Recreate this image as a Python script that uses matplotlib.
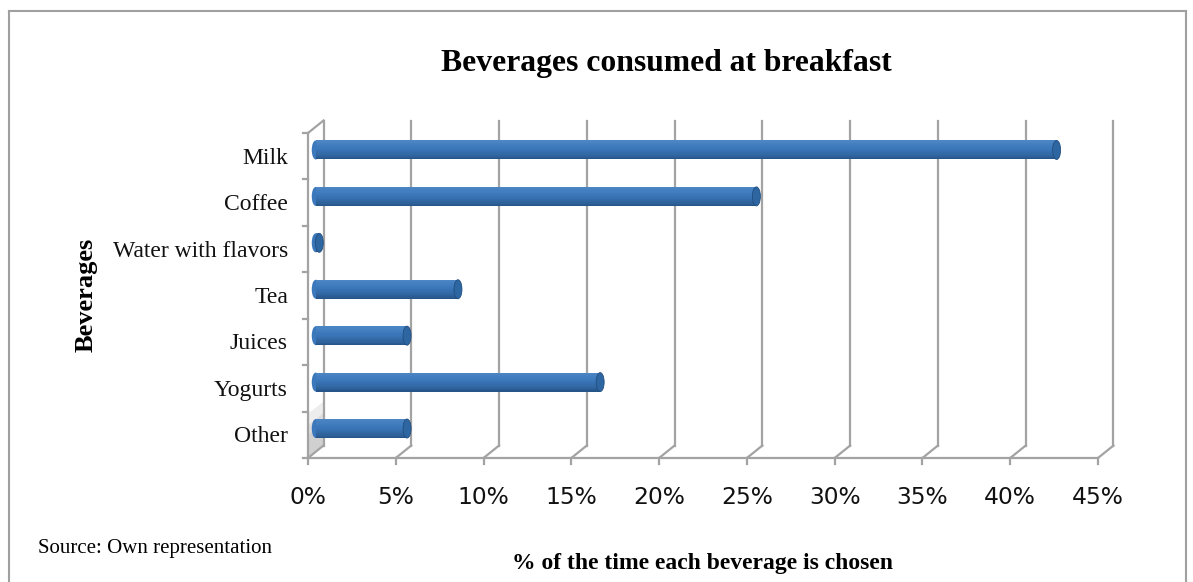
import matplotlib.pyplot as plt
import numpy as np
from matplotlib.patches import Ellipse, Polygon
from matplotlib.lines import Line2D

categories = ["Other", "Yogurts", "Juices", "Tea", "Water with flavors", "Coffee", "Milk"]
values = [5.2, 16.2, 5.2, 8.1, 0.2, 25.1, 42.2]
xticks = list(range(0, 50, 5))
xlabels = [f"{t}%" for t in xticks]

W, H = 1193, 582
fig = plt.figure(figsize=(W / 100, H / 100), dpi=100)

# front plane in pixels
x0, x1 = 308, 1098
yb, yt = 458, 133
ax = fig.add_axes([x0 / W, 1 - yb / H, (x1 - x0) / W, (yb - yt) / H])
ax.set_xlim(0, 45)
ax.set_ylim(-0.5, 6.5)
ax.axis("off")

# depth offset in data units
px_x = (x1 - x0) / 45
px_y = (yb - yt) / 7
ddx = 15.5 / px_x
ddy = 12.5 / px_y

grid = "#a3a3a3"
lw = 1.6

# back gridlines + floor diagonals
for t, lab in zip(xticks, xlabels):
    ax.plot([t + ddx, t + ddx], [-0.5 + ddy, 6.5 + ddy], color=grid, lw=lw, clip_on=False, zorder=1)
    ax.plot([t, t + ddx], [-0.5, -0.5 + ddy], color=grid, lw=lw, clip_on=False, zorder=1)
    ax.plot([t, t], [-0.5, -0.5 - 6 / px_y], color=grid, lw=lw, clip_on=False, zorder=1)
    ax.text(t, -0.5 - 39 / px_y, lab, ha="center", va="center",
            fontsize=16.8, family="DejaVu Sans", color="#111111")

# floor front line and left wall
ax.plot([0, 45], [-0.5, -0.5], color=grid, lw=lw, clip_on=False, zorder=1)
ax.plot([0, 0], [-0.5, 6.5], color=grid, lw=lw, clip_on=False, zorder=1)
ax.plot([0, ddx], [6.5, 6.5 + ddy], color=grid, lw=lw, clip_on=False, zorder=1)

# soft shadow on left wall near bottom
for a, top in [(0.25, 0.45), (0.3, 0.2), (0.35, 0.0)]:
    ax.add_patch(Polygon([[0, -0.5], [ddx, -0.5 + ddy], [ddx, top + ddy], [0, top]], closed=True,
                         facecolor="#b8b8b8", edgecolor="none", alpha=a, zorder=0.5, clip_on=False))

# y ticks on the left wall
for k in range(8):
    ax.plot([0, -5 / px_x], [-0.5 + k, -0.5 + k], color=grid, lw=lw, clip_on=False, zorder=1)

for i, name in enumerate(categories):
    ax.text(-20 / px_x, i - 2 / px_y, name, ha="right", va="center",
            fontsize=17, family="Liberation Serif", color="#111111")

# cylinder bars at mid depth
bh = 19 / px_y
cap_w = 8 / px_x
top_c = np.array([0x58, 0x8f, 0xcc]) / 255
mid_c = np.array([0x3b, 0x78, 0xbb]) / 255
bot_c = np.array([0x22, 0x4e, 0x80]) / 255
n = 16
for i, v in enumerate(values):
    yc = i + 0.5 * ddy
    xs = 0.5 * ddx
    ax.add_patch(Ellipse((xs, yc), cap_w, bh, facecolor=mid_c, edgecolor="none", zorder=3))
    for k in range(n):
        f = (k + 0.5) / n
        # f = 0 bottom, f = 1 top
        if f > 0.6:
            c = mid_c + (top_c - mid_c) * ((f - 0.6) / 0.4) * 0.6
        else:
            c = bot_c + (mid_c - bot_c) * (f / 0.6) ** 0.6
        ax.fill_between([xs, xs + v], yc - bh / 2 + k * bh / n, yc - bh / 2 + (k + 1) * bh / n + 0.002,
                        color=c, lw=0, zorder=4)
    ax.add_patch(Ellipse((xs + v, yc), cap_w, bh, facecolor="#2d66a1", edgecolor=bot_c, lw=0.6, zorder=5))

# texts
fig.text(666 / W, 1 - 63 / H, "Beverages consumed at breakfast", ha="center", va="center",
         fontsize=22.8, fontweight="bold", family="Liberation Serif")
fig.text(86 / W, 1 - 295 / H, "Beverages", ha="center", va="center", rotation=90,
         fontsize=19, fontweight="bold", family="Liberation Serif")
fig.text(702 / W, 1 - 564 / H, "% of the time each beverage is chosen", ha="center", va="center",
         fontsize=17, fontweight="bold", family="Liberation Serif")
fig.text(38 / W, 1 - 548 / H, "Source: Own representation", ha="left", va="center",
         fontsize=15, family="Liberation Serif")

# outer frame
for xy in ([[9, 9], [600, 11]], [[9, 1186], [11, 11]], [[1186, 1186], [11, 600]]):
    fig.add_artist(Line2D(np.array(xy[0]) / W, 1 - np.array(xy[1]) / H, color="#a0a0a0", lw=1.5))

fig.savefig("out.png", dpi=100)
